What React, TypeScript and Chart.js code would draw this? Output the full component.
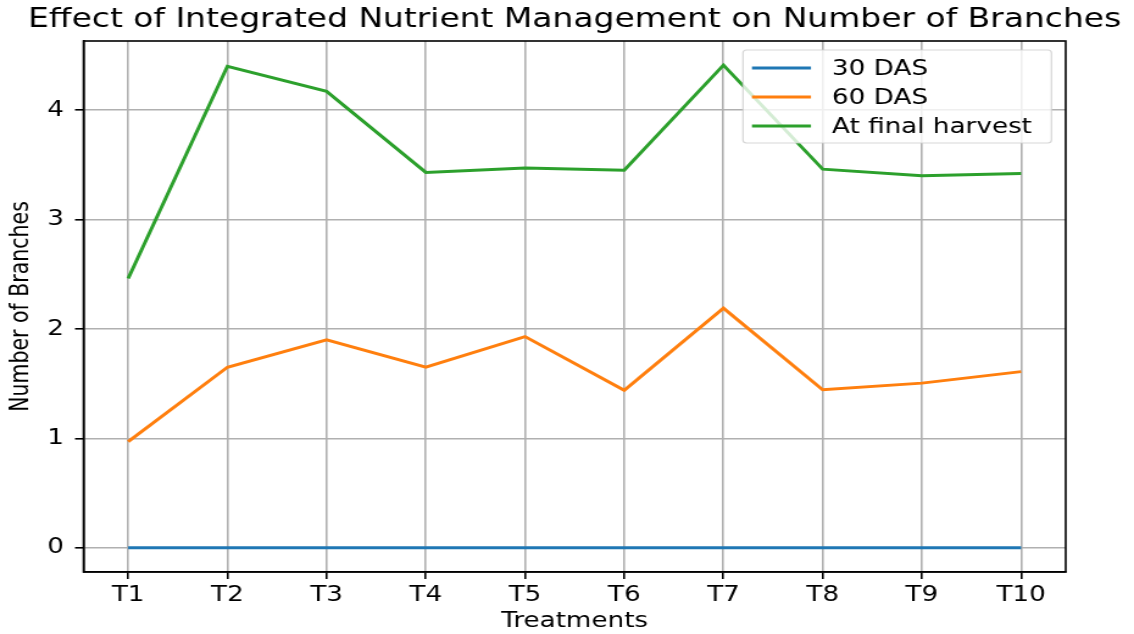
import React, { useEffect, useRef } from "react";
import { Chart, registerables } from "chart.js";

Chart.register(...registerables);

const TITLE = "Effect of Integrated Nutrient Management on Number of Branches";
const X_LABEL = "Treatments";
const Y_LABEL = "Number of Branches";

const categories = ["T1", "T2", "T3", "T4", "T5", "T6", "T7", "T8", "T9", "T10"];
const das30 = [0, 0, 0, 0, 0, 0, 0, 0, 0, 0];
const das60 = [0.97, 1.65, 1.9, 1.65, 1.93, 1.44, 2.19, 1.445, 1.505, 1.61];
const finalHarvest = [2.46, 4.4, 4.17, 3.43, 3.47, 3.45, 4.41, 3.46, 3.4, 3.42];
const seriesLabels = ["30 DAS", "60 DAS", "At final harvest"];
const seriesColors = ["#1f77b4", "#ff7f0e", "#2ca02c"];
const yTicks = [0, 1, 2, 3, 4];

const W = 930;
const H = 634;
const FONT = '"DejaVu Sans", sans-serif';

const decorPlugin = {
  id: "decor",
  afterDraw(chart: any) {
    const { ctx, chartArea: a } = chart;
    ctx.save();
    // frame (spines)
    ctx.strokeStyle = "#000";
    ctx.lineWidth = 1.6;
    ctx.strokeRect(a.left, a.top, a.right - a.left, a.bottom - a.top);

    ctx.fillStyle = "#000";
    ctx.textAlign = "center";
    ctx.textBaseline = "middle";
    // title
    ctx.font = `27px ${FONT}`;
    ctx.fillText(TITLE, (a.left + a.right) / 2, 20);
    // x label
    ctx.font = `21.5px ${FONT}`;
    ctx.fillText(X_LABEL, (a.left + a.right) / 2, 621);
    // y label
    ctx.save();
    ctx.translate(18, (a.top + a.bottom) / 2);
    ctx.rotate(-Math.PI / 2);
    ctx.font = `20.5px ${FONT}`;
    ctx.fillText(Y_LABEL, 0, 0);
    ctx.restore();

    // legend
    const bw = 253;
    const bh = 93;
    const bx = a.right - 11.7 - bw;
    const by = a.top + 9;
    const r = 3;
    ctx.beginPath();
    ctx.moveTo(bx + r, by);
    ctx.lineTo(bx + bw - r, by);
    ctx.quadraticCurveTo(bx + bw, by, bx + bw, by + r);
    ctx.lineTo(bx + bw, by + bh - r);
    ctx.quadraticCurveTo(bx + bw, by + bh, bx + bw - r, by + bh);
    ctx.lineTo(bx + r, by + bh);
    ctx.quadraticCurveTo(bx, by + bh, bx, by + bh - r);
    ctx.lineTo(bx, by + r);
    ctx.quadraticCurveTo(bx, by, bx + r, by);
    ctx.closePath();
    ctx.fillStyle = "rgba(255,255,255,0.8)";
    ctx.fill();
    ctx.strokeStyle = "rgba(204,204,204,0.8)";
    ctx.lineWidth = 1.2;
    ctx.stroke();

    ctx.textAlign = "left";
    ctx.font = `21.5px ${FONT}`;
    chart.data.datasets.forEach((ds: any, i: number) => {
      const yy = by + 18 + i * 29;
      ctx.strokeStyle = ds.borderColor;
      ctx.lineWidth = 3;
      ctx.beginPath();
      ctx.moveTo(bx + 7.4, yy);
      ctx.lineTo(bx + 55.8, yy);
      ctx.stroke();
      ctx.fillStyle = "#000";
      ctx.fillText(ds.label, bx + 73, yy + 1);
    });
    ctx.restore();
  },
};

export default function App() {
  const ref = useRef<HTMLCanvasElement | null>(null);

  useEffect(() => {
    if (!ref.current) return;
    const seriesValues = [das30, das60, finalHarvest];
    const chart = new Chart(ref.current, {
      type: "line",
      data: {
        datasets: seriesValues.map((vals, k) => ({
          label: seriesLabels[k],
          data: categories.map((_, i) => ({ x: i, y: vals[i] })),
          borderColor: seriesColors[k],
          backgroundColor: seriesColors[k],
          borderWidth: 3,
          pointRadius: 0,
          tension: 0,
          fill: false,
          order: 3 - k,
        })),
      },
      options: {
        responsive: false,
        animation: false,
        devicePixelRatio: 1,
        layout: { padding: { top: 41, right: 56, bottom: 0, left: 0 } },
        plugins: {
          legend: { display: false },
          title: { display: false },
          tooltip: { enabled: false },
        },
        scales: {
          x: {
            type: "linear",
            min: -0.45,
            max: categories.length - 1 + 0.45,
            afterBuildTicks: (axis: any) => {
              axis.ticks = categories.map((_, i) => ({ value: i }));
            },
            afterFit: (axis: any) => {
              axis.height = 62;
            },
            ticks: {
              callback: (v: any) => categories[Math.round(Number(v))] ?? "",
              color: "#000",
              font: { family: FONT, size: 21.5 },
              padding: 4,
              maxRotation: 0,
              autoSkip: false,
            },
            grid: {
              color: "#b0b0b0",
              lineWidth: 1.6,
              tickColor: "#000",
              tickLength: 7,
              tickWidth: 1.6,
            },
            border: { display: true, color: "#000", width: 1.6 },
          },
          y: {
            type: "linear",
            min: -0.2205,
            max: 4.6305,
            afterBuildTicks: (axis: any) => {
              axis.ticks = yTicks.map((v) => ({ value: v }));
            },
            afterFit: (axis: any) => {
              axis.width = 68.5;
            },
            ticks: {
              callback: (v: any) => String(v),
              color: "#000",
              font: { family: FONT, size: 21.5 },
              padding: 9,
            },
            grid: {
              color: "#b0b0b0",
              lineWidth: 1.6,
              tickColor: "#000",
              tickLength: 7,
              tickWidth: 1.6,
            },
            border: { display: true, color: "#000", width: 1.6 },
          },
        },
      },
      plugins: [decorPlugin],
    });
    return () => chart.destroy();
  }, []);

  return (
    <div style={{ position: "fixed", left: 0, top: 0, width: 1134, height: 634, background: "#fff" }}>
      <canvas
        ref={ref}
        width={W}
        height={H}
        style={{ display: "block", width: "1134px", height: "634px" }}
      />
    </div>
  );
}
